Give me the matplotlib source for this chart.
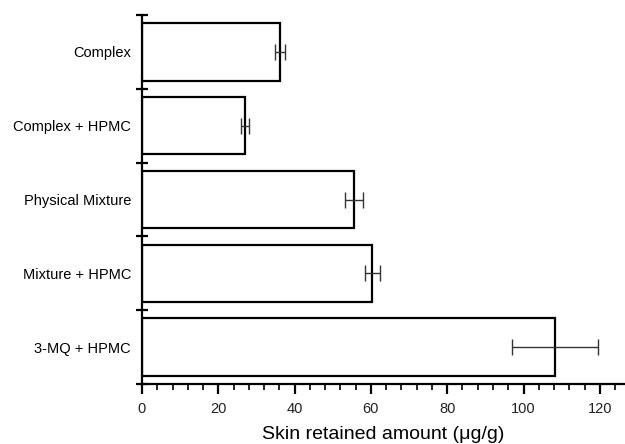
import numpy as np
import matplotlib.pyplot as plt
from matplotlib.ticker import MultipleLocator

# data
groups = ['Complex', 'Complex + HPMC', 'Physical Mixture', 'Mixture + HPMC', '3-MQ + HPMC']
amount = [36.2, 27.0, 55.6, 60.4, 108.2]
sd = [1.4, 1.0, 2.4, 2.0, 11.3]

plt.rcParams['font.family'] = ['Liberation Sans', 'DejaVu Sans']

fig = plt.figure(figsize=(6.25, 4.44), dpi=100)
ax = fig.add_axes([0.2272, 0.1351, 0.7728, 0.8311])

pos = np.arange(len(groups))
ax.barh(pos, amount, height=0.78, color='white', edgecolor='black', linewidth=1.6, zorder=2)
ax.errorbar(amount, pos, xerr=sd, fmt='none', ecolor='#333333', elinewidth=1.0,
            capsize=6, capthick=1.0, zorder=3)

ax.set_ylim(len(groups) - 0.5, -0.5)
ax.set_xlim(0, 126.6)

ax.set_yticks(pos)
ax.set_yticklabels(groups, fontsize=10.5)
ax.tick_params(axis='y', which='major', length=0, pad=8)
ax.set_yticks(np.arange(len(groups) + 1) - 0.5, minor=True)
ax.tick_params(axis='y', which='minor', length=8, width=1.6, direction='inout')

ax.xaxis.set_major_locator(MultipleLocator(20))
ax.xaxis.set_minor_locator(MultipleLocator(4))
ax.tick_params(axis='x', which='major', length=7, width=1.6, labelsize=10.5, pad=6, labelcolor='#222222')
ax.tick_params(axis='x', which='minor', length=4, width=1.2)

for s in ['top', 'right']:
    ax.spines[s].set_visible(False)
for s in ['left', 'bottom']:
    ax.spines[s].set_linewidth(1.6)

ax.set_xlabel('Skin retained amount (\u03bcg/g)', fontsize=14, labelpad=7)

fig.savefig('out.png', dpi=100)
